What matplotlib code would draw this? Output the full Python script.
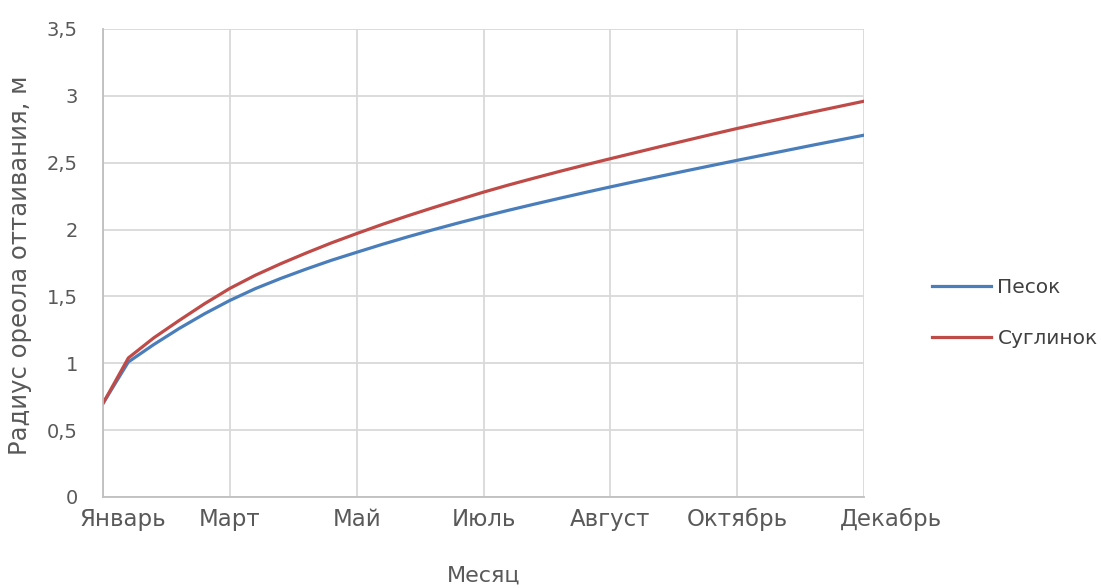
import numpy as np
import matplotlib
matplotlib.use('Agg')
import matplotlib.pyplot as plt
import matplotlib.transforms as mtransforms

# Data (31 points, 5 steps between labelled months)
month_labels = ['Январь', 'Март', 'Май', 'Июль', 'Август', 'Октябрь', 'Декабрь']
pesok = [0.70, 1.01, 1.14, 1.26, 1.37, 1.47, 1.558, 1.634, 1.704, 1.77,
         1.83, 1.889, 1.945, 1.998, 2.049, 2.098, 2.145, 2.19, 2.234, 2.277,
         2.319, 2.36, 2.40, 2.44, 2.479, 2.518, 2.556, 2.594, 2.632, 2.669, 2.706]
suglinok = [0.70, 1.04, 1.19, 1.32, 1.445, 1.56, 1.658, 1.744, 1.824, 1.90,
            1.97, 2.038, 2.102, 2.163, 2.222, 2.28, 2.334, 2.385, 2.435, 2.483,
            2.53, 2.576, 2.622, 2.667, 2.712, 2.756, 2.798, 2.839, 2.88, 2.92, 2.96]

def plotGraphs():
  plt.rcParams['font.family'] = ['DejaVu Sans']
  W, H = 1101, 588
  fig = plt.figure(figsize=(W/100, H/100), dpi=100)
  ax = fig.add_axes([103/W, 1-497/H, (864-103)/W, (497-29)/H])

  x = np.arange(len(pesok))
  ax.plot(x, pesok, color='#4a7ebb', lw=2.3, label='Песок')
  ax.plot(x, suglinok, color='#be4b48', lw=2.3, label='Суглинок')

  step = (len(pesok)-1)//(len(month_labels)-1)
  ax.set_xticks(x[::step])
  ax.set_xticklabels(month_labels)
  ax.set_xlim(0, len(pesok)-1)
  ax.set_ylim(0, 3.5)
  yt = np.arange(0, 3.51, 0.5)
  ax.set_yticks(yt)
  ax.set_yticklabels([('%g' % v).replace('.', ',') for v in yt])

  ax.grid(True, color='#d9d9d9', lw=1.3)
  ax.set_axisbelow(True)
  for s in ['top', 'right']:
    ax.spines[s].set_visible(False)
  for s in ['left', 'bottom']:
    ax.spines[s].set_color('#bfbfbf')
    ax.spines[s].set_linewidth(1.3)
  ax.tick_params(length=0, labelcolor='#595959')
  ax.tick_params(axis='x', labelsize=16.5, pad=8)
  ax.tick_params(axis='y', labelsize=14, pad=18)

  # first and last month labels sit shifted inwards/outwards like in the original
  xl = ax.get_xticklabels()
  xl[0].set_transform(xl[0].get_transform() + mtransforms.ScaledTranslation(20/100, 0, fig.dpi_scale_trans))
  xl[-1].set_transform(xl[-1].get_transform() + mtransforms.ScaledTranslation(27/100, 0, fig.dpi_scale_trans))

  fig.text(20/W, 1-265/H, 'Радиус ореола оттаивания, м', fontsize=17.5, color='#595959',
           rotation=90, ha='center', va='center')
  fig.text(484/W, 1-576/H, 'Месяц', fontsize=16, color='#595959', ha='center', va='center')

  leg = fig.legend(loc='upper left', bbox_to_anchor=(932/W, 1-278/H), frameon=False,
                   fontsize=14.5, labelspacing=1.6, handlelength=2.95, handletextpad=0.3,
                   borderpad=0, borderaxespad=0)
  for t in leg.get_texts():
    t.set_color('#404040')

  fig.savefig('out.png', dpi=100)

if __name__ == "__main__":
  plotGraphs()
